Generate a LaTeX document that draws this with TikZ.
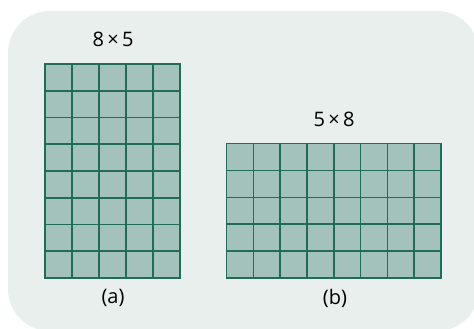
\documentclass[tikz,border=0pt]{standalone}
\usepackage{fontspec}
\setmainfont{Open Sans}
\definecolor{bgc}{HTML}{E8EFED}
\definecolor{cellc}{HTML}{A3C2BB}
\definecolor{linec}{HTML}{216B58}
\tikzset{
  gridbox/.style={fill=cellc, draw=linec, line width=1.8pt},
  gridlines/.style={draw=linec, line width=1.6pt},
  lbl/.style={font=\fontsize{20}{24}\selectfont, text=black, inner sep=0pt}
}
\begin{document}
\begin{tikzpicture}[x=1pt,y=-1pt]
\useasboundingbox (0,0) rectangle (474,329);
\begin{scope}
\clip (0,0) rectangle (474,329);
\fill[bgc, rounded corners=42pt] (8,11) rectangle (479,331);
\end{scope}
% grid a
\coordinate (a0) at (45,64);
\coordinate (a1) at (180,278);
\draw[gridbox] (a0) rectangle (a1);
\foreach \i in {1,...,4} \draw[gridlines] (45+27*\i,64) -- (45+27*\i,278);
\foreach \j in {1,...,7} \draw[gridlines] (45,64+26.75*\j) -- (180,64+26.75*\j);
% grid b
\coordinate (b0) at (226.5,143.5);
\coordinate (b1) at (441,278);
\draw[gridbox] (b0) rectangle (b1);
\foreach \i in {1,...,7} \draw[gridlines] (226.5+26.8125*\i,143.5) -- (226.5+26.8125*\i,278);
\foreach \j in {1,...,4} \draw[gridlines] (226.5,143.5+26.9*\j) -- (441,143.5+26.9*\j);
\node[lbl] (ta) at (113,39) {8\,×\,5};
\node[lbl] (tb) at (334,119) {5\,×\,8};
\node[lbl] (la) at (113,298) {(a)};
\node[lbl] (lb) at (335,298) {(b)};
\end{tikzpicture}
\end{document}
